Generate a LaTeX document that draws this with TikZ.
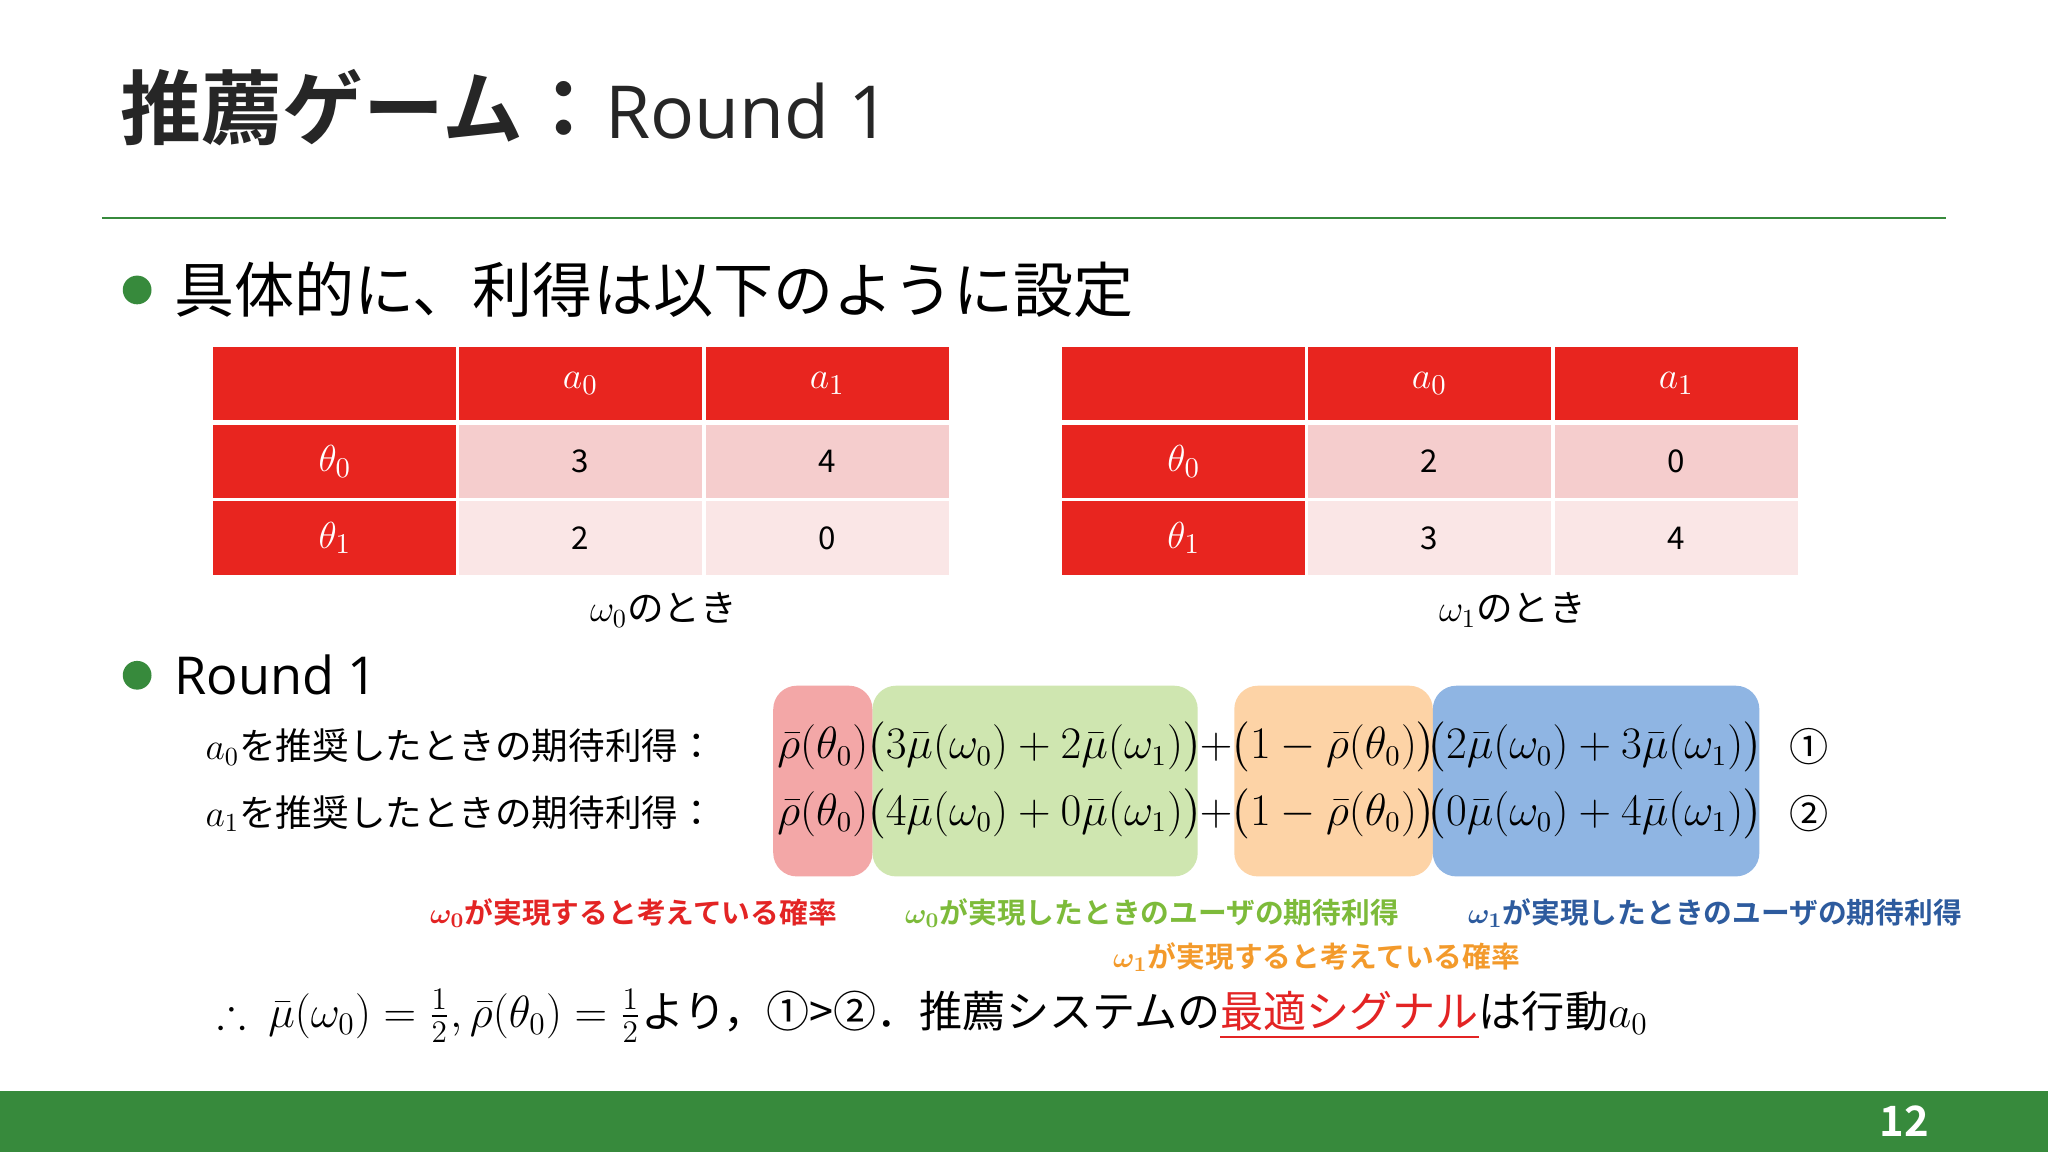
\documentclass[tikz,border=0pt]{standalone}
\usepackage{amsmath,amssymb,bm}
\usepackage{fontspec}
\setmainfont{Noto Sans CJK JP}
\newfontfamily\jpb{Noto Sans CJK JP Bold}
\newfontfamily\latn{Open Sans}
\definecolor{hred}{HTML}{E8251F}
\definecolor{cpinkA}{HTML}{F5CDCD}
\definecolor{cpinkB}{HTML}{FAE6E6}
\definecolor{bpink}{HTML}{F3A7A7}
\definecolor{bgreen}{HTML}{CFE6B0}
\definecolor{borange}{HTML}{FDD3A6}
\definecolor{bblue}{HTML}{8FB5E3}
\definecolor{dgreen}{HTML}{378A3C}
\definecolor{lgreen}{HTML}{7DBB3A}
\definecolor{lorange}{HTML}{F39A2B}
\definecolor{lblue}{HTML}{2D5B9E}
\definecolor{lred}{HTML}{E32424}
\tikzset{
  cell/.style={minimum width=93pt, minimum height=28pt, inner sep=0, anchor=north west, font=\fontsize{12}{14}\selectfont},
  hcell/.style={cell, fill=hred, text=white},
  hl/.style={rounded corners=9pt},
  eq/.style={font=\fontsize{16}{20}\selectfont, inner sep=0},
  lab/.style={font=\jpb\fontsize{11}{13}\selectfont, inner sep=0},
}
\begin{document}
\begin{tikzpicture}[x=0.5pt,y=-0.5pt]
\useasboundingbox (0,0) rectangle (1568,882);
\fill[white] (0,0) rectangle (1568,882);
% title
\node[anchor=base west, inner sep=0, font=\jpb\fontsize{31}{36}\selectfont, text=black!85] (title) at (92,106) {推薦ゲーム：};
\node[anchor=base west, inner sep=0, font=\latn\fontsize{28}{34}\selectfont, text=black!85] (title2) at (title.base east) {Round 1};
\draw[dgreen, line width=0.6pt] (78,167) -- (1490,167);
% bullet 1
\fill[dgreen] (105,222) circle (11);
\node[anchor=west, inner sep=0, font=\fontsize{23}{27}\selectfont] (b1) at (133,222) {具体的に、利得は以下のように設定};
% tables
\foreach \ox/\va/\vb/\vc/\vd/\nm in {163/3/4/2/0/{$\omega_0$のとき}, 813/2/0/3/4/{$\omega_1$のとき}}{
  \node[hcell] (h0) at (\ox,265) {};
  \node[hcell] (h1) at (\ox+188,265) {\fontsize{15}{18}\selectfont$a_0$};
  \node[hcell] (h2) at (\ox+377,265) {\fontsize{15}{18}\selectfont$a_1$};
  \node[hcell] (r0) at (\ox,325) {\fontsize{15}{18}\selectfont$\theta_0$};
  \node[cell, fill=cpinkA] (c00) at (\ox+188,325) {\va};
  \node[cell, fill=cpinkA] (c01) at (\ox+377,325) {\vb};
  \node[hcell, minimum height=28.5pt] (r1) at (\ox,383) {\fontsize{15}{18}\selectfont$\theta_1$};
  \node[cell, fill=cpinkB, minimum height=28.5pt] (c10) at (\ox+188,383) {\vc};
  \node[cell, fill=cpinkB, minimum height=28.5pt] (c11) at (\ox+377,383) {\vd};
  \node[font=\fontsize{14}{17}\selectfont] (cap) at (\ox+345,467) {\nm};
}
% bullet 2
\fill[dgreen] (105,517) circle (11);
\node[anchor=west, inner sep=0, font=\latn\fontsize{20}{24}\selectfont] (b2) at (133,517) {Round 1};
\node[anchor=west, inner sep=0, font=\fontsize{14}{17}\selectfont] (l1) at (157,572) {$a_0$を推奨したときの期待利得：};
\node[anchor=west, inner sep=0, font=\fontsize{14}{17}\selectfont] (l2) at (157,623) {$a_1$を推奨したときの期待利得：};
% highlight boxes
\fill[bpink, hl] (592,525) rectangle (668,671);
\fill[bgreen, hl] (668,525) rectangle (917,671);
\fill[borange, hl] (945,525) rectangle (1097,671);
\fill[bblue, hl] (1097,525) rectangle (1347,671);
\foreach \yy/\ga/\gb/\bb/\bc/\cn in {572/3/2/2/3/①, 623/4/0/0/4/②}{
  \node[eq] (p) at (630,\yy) {$\bar\rho(\theta_0)$};
  \node[eq] (g) at (792,\yy) {$\big(\ga\bar\mu(\omega_0)+\gb\bar\mu(\omega_1)\big)$};
  \node[eq] (pl) at (931,\yy) {$+$};
  \node[eq] (o) at (1021,\yy) {$\big(1-\bar\rho(\theta_0)\big)$};
  \node[eq] (b) at (1221,\yy) {$\big(\bb\bar\mu(\omega_0)+\bc\bar\mu(\omega_1)\big)$};
  \node[font=\fontsize{15}{18}\selectfont] (c) at (1385,\yy) {\cn};
}
% labels
\node[lab, text=lred] (la) at (485,699) {$\bm\omega_{\bm 0}$が実現すると考えている確率};
\node[lab, text=lgreen] (lb) at (882,699) {$\bm\omega_{\bm 0}$が実現したときのユーザの期待利得};
\node[lab, text=lblue] (lc) at (1313,699) {$\bm\omega_{\bm 1}$が実現したときのユーザの期待利得};
\node[lab, text=lorange] (ld) at (1008,733) {$\bm\omega_{\bm 1}$が実現すると考えている確率};
% conclusion
\node[anchor=west, inner sep=0, font=\fontsize{16.5}{20}\selectfont] (concl) at (166,778)
 {$\therefore\ \bar\mu(\omega_0)=\frac12,\bar\rho(\theta_0)=\frac12$より，①>②．推薦システムの\textcolor{lred}{\underline{最適シグナル}}は行動$a_0$};
% footer
\fill[dgreen] (0,835) rectangle (1568,882);
\node[font=\jpb\fontsize{16}{19}\selectfont, text=white] (pg) at (1458,858) {12};
\end{tikzpicture}
\end{document}
